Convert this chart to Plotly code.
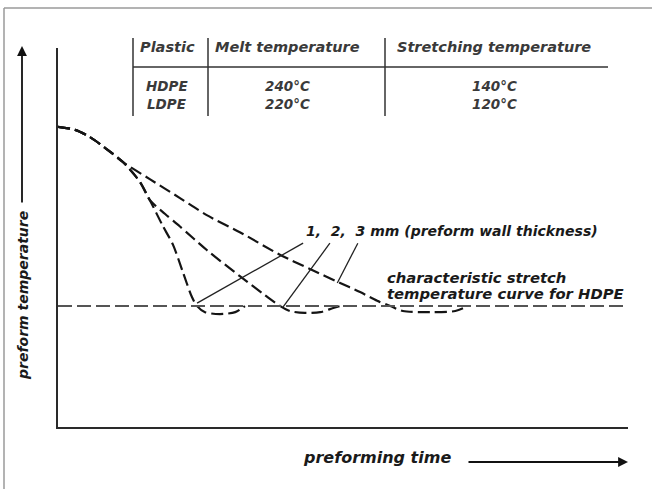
import plotly.graph_objects as go

# ---------------- data (schematic units: time 0-100, temperature 0-100) ----------------
curve1_x = [0, 3.0, 5.6, 8.3, 11.4, 14.4, 16.1, 18.3, 20.2, 21.9, 23.5, 24.4, 25.8, 28.4, 31.1, 32.8]
curve1_y = [79.2, 78.4, 76.5, 73.6, 69.9, 64.6, 59.9, 53.3, 48.0, 40.9, 34.3, 31.9, 30.3, 29.8, 30.3, 31.9]

curve2_x = [0, 3.0, 5.6, 8.3, 11.4, 14.4, 16.1, 18.8, 21.4, 26.1, 31.9, 36.3, 39.0, 40.7, 43.3, 46.0, 48.3, 49.5]
curve2_y = [79.2, 78.4, 76.5, 73.6, 69.9, 64.6, 59.9, 56.2, 52.9, 46.7, 39.8, 34.8, 31.9, 30.6, 30.1, 30.3, 31.4, 31.9]

curve3_x = [0, 3.0, 5.6, 8.3, 11.4, 16.1, 21.4, 26.1, 31.9, 39.0, 44.2, 49.5, 53.0, 56.0, 58.3, 60.5, 65.3, 69.7, 71.6]
curve3_y = [79.2, 78.4, 76.5, 73.6, 69.9, 65.4, 60.4, 55.9, 51.4, 45.4, 41.7, 38.0, 35.6, 33.3, 31.9, 30.6, 30.3, 30.6, 31.7]

stretch_x = [0, 100]
stretch_y = [31.9, 31.9]

# leader lines from the "1, 2, 3 mm" label to the curves
leader1_x = [24.4, 43.0]
leader1_y = [32.7, 48.5]
leader2_x = [39.5, 47.7]
leader2_y = [31.7, 48.5]
leader3_x = [49.0, 52.6]
leader3_y = [38.0, 48.5]

table_header = ["Plastic", "Melt temperature", "Stretching temperature"]
table_plastic = ["HDPE", "LDPE"]
table_melt = ["240°C", "220°C"]
table_stretch = ["140°C", "120°C"]

# ---------------- layout helpers (pixel -> paper) ----------------
W, H = 652, 489
L, R, T, B = 58, 24, 48, 62
PW = W - L - R
PH = H - T - B


def px(xp):
    return (xp - L) / PW


def py(yp):
    return (H - B - yp) / PH


FONT = "DejaVu Sans, Verdana, sans-serif"

fig = go.Figure()

curve_style = dict(color="#141414", width=2.2, dash="12px,5px")
for cx, cy in [(curve1_x, curve1_y), (curve2_x, curve2_y), (curve3_x, curve3_y)]:
    fig.add_trace(go.Scatter(x=cx, y=cy, mode="lines", line=dict(shape="spline", smoothing=0.8, **curve_style),
                             hoverinfo="skip", showlegend=False))

fig.add_trace(go.Scatter(x=stretch_x, y=stretch_y, mode="lines",
                         line=dict(color="#555555", width=2, dash="14px,5px"),
                         hoverinfo="skip", showlegend=False))

for lx, ly in [(leader1_x, leader1_y), (leader2_x, leader2_y), (leader3_x, leader3_y)]:
    fig.add_trace(go.Scatter(x=lx, y=ly, mode="lines", line=dict(color="#222222", width=1.3),
                             hoverinfo="skip", showlegend=False))

shapes = []
# outer gray frame (top and left visible)
shapes.append(dict(type="line", xref="paper", yref="paper", x0=px(4), x1=px(4), y0=py(8), y1=py(489),
                   line=dict(color="#9a9a9a", width=1.5)))
shapes.append(dict(type="line", xref="paper", yref="paper", x0=px(4), x1=px(652), y0=py(8), y1=py(8),
                   line=dict(color="#9a9a9a", width=1.5)))
# table rules
for xv in [133, 208, 385]:
    shapes.append(dict(type="line", xref="paper", yref="paper", x0=px(xv), x1=px(xv), y0=py(38), y1=py(116),
                       line=dict(color="#333333", width=1.5)))
shapes.append(dict(type="line", xref="paper", yref="paper", x0=px(133), x1=px(608), y0=py(67), y1=py(67),
                   line=dict(color="#333333", width=1.6)))

annotations = []


def txt(s, xp, yp, size=12, anchor="center", color="#1a1a1a"):
    annotations.append(dict(text="<b><i>" + s + "</i></b>", xref="paper", yref="paper", x=px(xp), y=py(yp),
                            xanchor=anchor, yanchor="middle", showarrow=False,
                            font=dict(family=FONT, size=size, color=color)))


# table text
col_x = [167, 287, 494]
for s, xc in zip(table_header, col_x):
    txt(s, xc, 47, size=14.5, color="#3a3a3a")
for i, yr in enumerate([86, 104]):
    txt(table_plastic[i], col_x[0], yr, size=13.5, color="#3a3a3a")
    txt(table_melt[i], col_x[1], yr, size=13.5, color="#3a3a3a")
    txt(table_stretch[i], col_x[2], yr, size=13.5, color="#3a3a3a")

# curve labels
txt("1,&nbsp;&nbsp;2,&nbsp;&nbsp;3 mm (preform wall thickness)", 304, 231, size=14, anchor="left")
txt("characteristic stretch", 385, 277, size=14.8, anchor="left")
txt("temperature curve for HDPE", 385, 293, size=14.8, anchor="left")

# axis titles
txt("preforming time", 377, 457, size=16, anchor="center")
annotations.append(dict(text="<b><i>preform temperature</i></b>", xref="paper", yref="paper", x=px(23), y=py(296),
                        xanchor="center", yanchor="middle", textangle=-90, showarrow=False,
                        font=dict(family=FONT, size=14, color="#1a1a1a")))

# arrows
annotations.append(dict(text="", xref="paper", yref="paper", x=px(628), y=py(462), ax=-161, ay=0,
                        axref="pixel", ayref="pixel", showarrow=True, arrowhead=2, arrowsize=1.1,
                        arrowwidth=1.8, arrowcolor="#111111"))
annotations.append(dict(text="", xref="paper", yref="paper", x=px(22), y=py(46), ax=0, ay=158,
                        axref="pixel", ayref="pixel", showarrow=True, arrowhead=2, arrowsize=1.1,
                        arrowwidth=1.8, arrowcolor="#111111"))

fig.update_layout(
    width=W, height=H,
    margin=dict(l=L, r=R, t=T, b=B),
    paper_bgcolor="white", plot_bgcolor="white",
    shapes=shapes, annotations=annotations,
    xaxis=dict(range=[0, 100], showgrid=False, zeroline=False, showticklabels=False, ticks="",
               showline=True, linecolor="#2a2a2a", linewidth=2),
    yaxis=dict(range=[0, 100], showgrid=False, zeroline=False, showticklabels=False, ticks="",
               showline=True, linecolor="#2a2a2a", linewidth=2),
)

fig.write_html("out.html", config={"displayModeBar": False},
               post_script="document.body.style.margin='0';")
